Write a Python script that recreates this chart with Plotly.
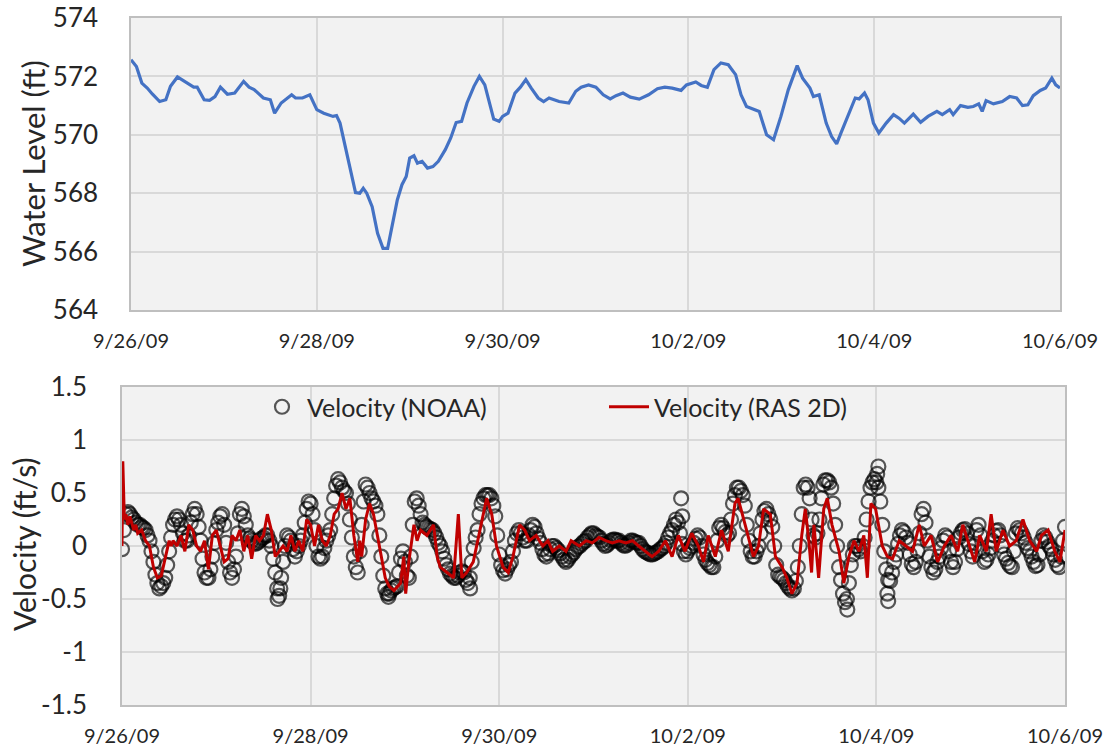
import pandas as pd
import plotly.graph_objects as go

# ---------------- data (hours since 9/26/09 00:00) ----------------
level_hours = [0, 1.4, 2.8, 4.2, 5.5, 7.4, 9.0, 10.2, 12.0, 13.8, 16.2, 17.1, 18.9, 20.3, 21.7, 23.1,
               24.9, 26.8, 29.1, 30.5, 31.8, 34.2, 36.0, 37.1, 38.8, 41.5, 42.5, 44.3, 46.2, 48.0,
               49.8, 52.2, 53.1, 54.0, 55.4, 56.8, 58.0, 59.1, 60.0, 60.9, 62.3, 63.7, 65.1, 66.3,
               67.4, 68.8, 70.0, 71.1, 72.0, 73.1, 74.0, 75.2, 76.6, 78.0, 79.4, 81.2, 82.6, 84.0,
               85.4, 86.8, 88.6, 90.0, 91.4, 92.8, 93.7, 95.1, 96.0, 97.4, 99.2, 100.6, 102.0, 103.4,
               105.2, 106.6, 108.0, 110.6, 113.1, 114.9, 116.3, 118.2, 120.1, 122.0, 123.8, 125.3,
               127.1, 129.0, 131.3, 133.7, 136.0, 137.9, 139.8, 142.1, 143.5, 145.9, 147.3, 148.9,
               150.6, 152.4, 154.3, 156.2, 157.6, 159.0, 160.9, 162.3, 164.2, 166.0, 167.9, 169.8,
               172.1, 173.5, 175.4, 176.3, 177.8, 179.6, 181.0, 182.3, 183.4, 185.3, 187.1, 188.1,
               189.5, 190.4, 191.8, 193.2, 195.1, 197.0, 198.4, 199.8, 202.1, 204.0, 205.9, 208.2,
               209.6, 211.5, 212.4, 214.3, 216.2, 217.6, 219.0, 219.9, 220.9, 222.8, 225.1, 227.0,
               228.8, 230.3, 231.7, 233.1, 234.9, 236.3, 237.9, 238.9, 240.0]
level_ft = [572.57, 572.34, 571.77, 571.60, 571.40, 571.14, 571.20, 571.66, 571.98, 571.83, 571.63,
            571.63, 571.20, 571.18, 571.31, 571.63, 571.39, 571.43, 571.83, 571.63, 571.55, 571.26,
            571.20, 570.74, 571.09, 571.37, 571.26, 571.26, 571.37, 570.86, 570.74, 570.63, 570.66,
            570.40, 569.60, 568.80, 568.02, 568.00, 568.17, 568.00, 567.54, 566.63, 566.11, 566.11,
            566.86, 567.77, 568.29, 568.57, 569.20, 569.28, 569.03, 569.09, 568.86, 568.91, 569.09,
            569.49, 569.89, 570.42, 570.46, 571.09, 571.66, 572.00, 571.71, 570.97, 570.54, 570.46,
            570.63, 570.74, 571.43, 571.63, 571.89, 571.60, 571.26, 571.14, 571.26, 571.14, 571.09,
            571.49, 571.63, 571.71, 571.63, 571.37, 571.23, 571.34, 571.43, 571.29, 571.22, 571.37,
            571.58, 571.63, 571.60, 571.52, 571.71, 571.81, 571.69, 571.63, 572.23, 572.46, 572.40,
            572.06, 571.37, 570.97, 570.86, 570.80, 570.00, 569.83, 570.63, 571.54, 572.37, 571.94,
            571.60, 571.31, 571.37, 570.40, 569.94, 569.69, 570.06, 570.69, 571.26, 571.23, 571.43,
            571.20, 570.40, 570.06, 570.40, 570.69, 570.57, 570.40, 570.71, 570.43, 570.63, 570.80,
            570.69, 570.86, 570.69, 571.00, 570.94, 570.97, 571.06, 570.80, 571.17, 571.06, 571.14,
            571.31, 571.26, 571.00, 571.03, 571.34, 571.52, 571.60, 571.94, 571.71, 571.60]

# NOAA velocity, half-hourly readings, one list per day (9/26 ... 10/5) + final 10/6 00:00
noaa_d1 = [-0.03, 0.15, 0.30, 0.32, 0.30, 0.27, 0.25, 0.22, 0.20, 0.20, 0.18, 0.17, 0.15, 0.10, 0.05,
           -0.05, -0.15, -0.27, -0.35, -0.40, -0.38, -0.35, -0.30, -0.18, -0.05, 0.08, 0.20, 0.25,
           0.28, 0.25, 0.20, 0.12, 0.05, 0.05, 0.10, 0.22, 0.30, 0.35, 0.30, 0.18, 0.05, -0.12,
           -0.25, -0.30, -0.30, -0.22, -0.10, 0.03]
noaa_d2 = [0.15, 0.22, 0.28, 0.30, 0.20, 0.03, -0.15, -0.25, -0.30, -0.22, -0.10, 0.12, 0.30, 0.35,
           0.28, 0.20, 0.10, 0.07, 0.05, 0.03, 0.02, 0.03, 0.05, 0.07, 0.08, 0.10, 0.10, 0.05, 0.00,
           -0.12, -0.25, -0.40, -0.47, -0.30, -0.15, 0.00, 0.10, 0.08, 0.05, -0.03, -0.10, -0.05,
           0.00, 0.05, 0.10, 0.22, 0.35, 0.42]
noaa_d3 = [0.40, 0.30, 0.15, 0.00, -0.10, -0.12, -0.10, -0.02, 0.05, 0.10, 0.15, 0.30, 0.45, 0.57,
           0.63, 0.60, 0.55, 0.52, 0.50, 0.40, 0.25, 0.08, -0.10, -0.20, -0.25, -0.05, 0.20, 0.42,
           0.58, 0.55, 0.50, 0.45, 0.42, 0.38, 0.30, 0.10, -0.10, -0.28, -0.40, -0.45, -0.45, -0.42,
           -0.40, -0.39, -0.38, -0.25, -0.12, -0.05]
noaa_d4 = [-0.15, -0.28, -0.30, -0.10, 0.20, 0.42, 0.45, 0.38, 0.30, 0.22, 0.20, 0.18, 0.17, 0.16,
           0.15, 0.12, 0.08, 0.03, 0.00, -0.05, -0.12, -0.18, -0.22, -0.26, -0.28, -0.30, -0.30,
           -0.28, -0.25, -0.24, -0.25, -0.32, -0.35, -0.30, -0.15, -0.02, 0.08, 0.15, 0.30, 0.40,
           0.45, 0.48, 0.48, 0.48, 0.45, 0.38, 0.28, 0.10]
noaa_d5 = [-0.08, -0.18, -0.23, -0.26, -0.22, -0.18, -0.15, -0.05, 0.05, 0.12, 0.15, 0.12, 0.08,
           0.05, 0.05, 0.10, 0.15, 0.20, 0.18, 0.12, 0.07, 0.03, -0.03, -0.08, -0.10, -0.07, -0.03,
           0.00, 0.00, -0.02, -0.04, -0.07, -0.10, -0.13, -0.15, -0.13, -0.10, -0.08, -0.06, -0.03,
           -0.01, 0.00, 0.02, 0.04, 0.05, 0.08, 0.10, 0.12]
noaa_d6 = [0.12, 0.10, 0.09, 0.08, 0.05, 0.02, 0.00, 0.01, 0.03, 0.05, 0.06, 0.06, 0.05, 0.05, 0.03,
           0.01, 0.00, 0.01, 0.03, 0.05, 0.05, 0.04, 0.03, 0.03, 0.00, -0.03, -0.05, -0.06, -0.07,
           -0.08, -0.08, -0.07, -0.06, -0.05, -0.03, -0.02, 0.00, 0.03, 0.08, 0.12, 0.15, 0.20, 0.25,
           0.22, 0.12, 0.02, -0.05, -0.08]
noaa_d7 = [-0.05, -0.02, 0.00, 0.03, 0.07, 0.10, 0.08, 0.00, -0.08, -0.13, -0.16, -0.18, -0.20,
           -0.20, -0.10, 0.05, 0.17, 0.20, 0.17, 0.13, 0.10, 0.12, 0.25, 0.40, 0.48, 0.55, 0.55,
           0.52, 0.48, 0.38, 0.20, 0.05, -0.05, -0.10, -0.10, -0.05, 0.00, 0.12, 0.25, 0.33, 0.35,
           0.30, 0.25, 0.18, 0.00, -0.18, -0.27, -0.29]
noaa_d8 = [-0.30, -0.32, -0.35, -0.38, -0.40, -0.42, -0.40, -0.33, -0.20, 0.00, 0.30, 0.55, 0.58,
           0.55, 0.45, 0.25, 0.10, 0.08, 0.12, 0.25, 0.45, 0.58, 0.62, 0.62, 0.60, 0.55, 0.40, 0.20,
           0.00, -0.20, -0.32, -0.45, -0.53, -0.50, -0.35, -0.18, -0.08, 0.00, 0.00, -0.03, -0.05,
           0.00, 0.08, 0.25, 0.42, 0.55, 0.60, 0.63]
noaa_d9 = [0.60, 0.55, 0.42, 0.20, -0.05, -0.22, -0.32, -0.33, -0.25, -0.15, -0.08, 0.02, 0.10, 0.15,
           0.13, 0.08, 0.03, -0.08, -0.17, -0.20, -0.15, -0.05, 0.12, 0.30, 0.35, 0.22, 0.05, -0.10,
           -0.20, -0.25, -0.22, -0.15, -0.10, -0.02, 0.05, 0.10, 0.08, -0.05, -0.15, -0.20, -0.15,
           -0.03, 0.08, 0.12, 0.15, 0.16, 0.12, 0.02]
noaa_d10 = [-0.05, -0.10, 0.00, 0.15, 0.20, 0.10, -0.05, -0.15, -0.13, -0.08, -0.02, 0.05, 0.10,
            0.14, 0.15, 0.10, 0.00, -0.08, -0.12, -0.16, -0.19, -0.20, -0.05, 0.12, 0.17, 0.15, 0.12,
            0.08, 0.03, -0.02, -0.05, -0.10, -0.15, -0.19, -0.18, -0.08, 0.05, 0.10, 0.08, 0.04,
            0.00, -0.03, -0.08, -0.13, -0.18, -0.20, -0.10, 0.05, 0.18]
noaa_step_h = 0.5
# isolated NOAA readings that stand apart from the main band
noaa_extra_hours = [39.6, 40.3, 67.8, 88.6, 142.3, 142.6, 184.6, 192.2, 192.5, 194.8, 195.0]
noaa_extra_vel = [-0.50, -0.40, -0.48, -0.40, 0.45, 0.28, -0.60, 0.68, 0.75, -0.45, -0.52]

ras_hours = [0, 0.2, 0.6, 1, 1.5, 2, 3, 3.5, 4, 5, 6, 7, 8, 9, 10, 11, 12, 12.5, 13, 14, 15, 16, 17,
             18, 19, 20, 21, 22, 23, 24, 25, 26, 27, 28, 29, 30, 31, 32, 33, 34, 35, 36, 37, 38, 39,
             40, 41, 42, 43, 44, 45, 46, 47, 48, 49, 50, 51, 52, 53, 54, 55, 56, 57, 58, 59, 60,
             60.5, 61, 62, 63, 64, 65, 66, 67, 68, 69.2, 70.9, 71.7, 72.2, 73, 74.3, 75.1, 76, 77.6,
             79.3, 80.2, 81, 82.7, 84.4, 85.6, 86.5, 87.7, 89.4, 91.1, 92.8, 94.1, 95.3, 97, 98.3,
             99.5, 101.2, 102.5, 103.7, 105.4, 107.1, 108.4, 109.6, 111.3, 113, 114.3, 116.4, 118.1,
             119.7, 121.4, 123.1, 124.8, 126.5, 128.2, 129.9, 131.5, 133.2, 134.9, 136.6, 138.3, 140,
             141.6, 143.3, 145, 146.7, 148, 149.2, 151, 152.6, 154.3, 156, 156.8, 158.6, 160.7, 162,
             163.3, 165, 166.3, 168, 169.2, 170.5, 171.8, 173, 173.9, 174.8, 175.5, 176.1, 177.3,
             178.6, 179.5, 180.7, 182.5, 183.7, 185, 186.3, 187.6, 188.8, 189.7, 190.6, 191.8, 193.5,
             194.8, 196.1, 197.8, 199.5, 201.2, 202.9, 204.2, 205.9, 207.6, 209.3, 211, 212.7, 214,
             215.7, 217, 218.3, 220, 221.2, 222.5, 224.2, 225.9, 227.6, 229.3, 231, 232.8, 234,
             235.7, 237.4, 238.7, 240]
ras_vel = [0.00, 0.80, 0.25, 0.30, 0.20, 0.28, 0.15, 0.20, 0.12, 0.15, 0.05, 0.00, -0.20, -0.30, -0.28,
           -0.10, 0.05, 0.00, 0.05, 0.00, 0.10, -0.05, 0.20, 0.15, 0.00, -0.05, 0.05, -0.22, 0.10,
           0.15, 0.00, -0.15, -0.12, 0.10, 0.05, 0.15, -0.05, 0.10, -0.12, 0.10, 0.05, 0.10, 0.30,
           0.15, -0.10, -0.05, 0.00, -0.05, 0.10, -0.05, 0.05, -0.05, 0.25, 0.20, 0.00, 0.20, 0.05,
           0.00, 0.10, 0.30, 0.35, 0.50, 0.35, 0.45, 0.10, -0.15, 0.05, -0.10, 0.25, 0.40, 0.30,
           0.10, -0.10, -0.30, -0.38, -0.42, -0.35, -0.10, -0.45, -0.15, 0.20, 0.05, 0.15, 0.10,
           0.20, -0.10, -0.20, -0.25, -0.30, 0.30, -0.30, -0.25, -0.15, 0.15, 0.45, 0.30, 0.00,
           -0.20, -0.25, -0.10, 0.20, 0.15, 0.05, 0.10, 0.00, 0.05, -0.05, 0.00, -0.05, 0.05, 0.00,
           0.05, 0.03, 0.08, 0.05, 0.03, 0.05, 0.03, 0.05, 0.00, -0.05, -0.10, -0.05, 0.05, -0.10,
           0.10, -0.05, 0.12, 0.00, -0.15, 0.10, -0.10, 0.15, -0.05, 0.40, 0.45, 0.20, -0.10, 0.00,
           0.35, 0.30, -0.10, -0.20, -0.30, -0.45, -0.35, 0.10, 0.35, 0.05, -0.25, 0.20, -0.30,
           0.35, 0.45, 0.20, -0.05, -0.35, -0.10, 0.05, -0.05, 0.10, -0.30, 0.40, 0.35, 0.00, -0.10,
           -0.12, 0.05, 0.00, -0.05, 0.20, 0.00, 0.10, -0.15, 0.00, 0.10, -0.05, 0.20, 0.00, -0.15,
           0.10, -0.05, 0.30, -0.05, 0.15, 0.00, 0.05, 0.25, 0.05, -0.05, 0.10, 0.15, -0.05, -0.15,
           0.15]

wl_ticks = [564, 566, 568, 570, 572, 574]
vel_ticks = [-1.5, -1, -0.5, 0, 0.5, 1, 1.5]
vel_tick_labels = ["-1.5", "-1", "-0.5", "0", "0.5", "1", "1.5"]

start = pd.Timestamp("2009-09-26")
def to_dt(hours):
    return [start + pd.Timedelta(hours=h) for h in hours]

noaa_main = noaa_d1 + noaa_d2 + noaa_d3 + noaa_d4 + noaa_d5 + noaa_d6 + noaa_d7 + noaa_d8 + noaa_d9 + noaa_d10
noaa_main_hours = [i * noaa_step_h for i in range(len(noaa_main))]
noaa_hours = noaa_main_hours + noaa_extra_hours
noaa_vel = noaa_main + noaa_extra_vel

W, H = 1109, 753
top_px = dict(l=131, r=1060, t=18, b=310)
bot_px = dict(l=122, r=1065, t=387, b=705)

FONT = "Lato, 'Open Sans', sans-serif"
TXT = "#262626"
GRID = "#D9D9D9"
BORDER = "#BFBFBF"

fig = go.Figure()
fig.add_trace(go.Scatter(x=to_dt(level_hours), y=level_ft, mode="lines",
                         line=dict(color="#4472C4", width=3.2), showlegend=False,
                         xaxis="x", yaxis="y"))
fig.add_trace(go.Scatter(x=to_dt(noaa_hours), y=noaa_vel, mode="markers",
                         name="Velocity (NOAA)",
                         marker=dict(symbol="circle-open", size=14,
                                     color="rgba(0,0,0,0.65)", line=dict(width=2.2)),
                         xaxis="x2", yaxis="y2"))
fig.add_trace(go.Scatter(x=to_dt(ras_hours), y=ras_vel, mode="lines",
                         name="Velocity (RAS 2D)",
                         line=dict(color="#C00000", width=3),
                         xaxis="x2", yaxis="y2"))

def xdom(p):
    return [p["l"] / W, p["r"] / W]

def ydom(p):
    return [1 - p["b"] / H, 1 - p["t"] / H]

xcommon = dict(type="date", range=["2009-09-26", "2009-10-06"], dtick=2 * 86400000,
               tick0="2009-09-26", tickformat="%-m/%-d/%y", showgrid=True, gridcolor=GRID,
               gridwidth=1.5, showline=True, linecolor=BORDER, linewidth=1.5, mirror=True,
               ticks="", tickfont=dict(family=FONT, size=20, color=TXT), zeroline=False,
               ticklabelstandoff=12, automargin=False)
ycommon = dict(showgrid=True, gridcolor=GRID, gridwidth=1.5, showline=True, linecolor=BORDER,
               linewidth=1.5, mirror=True, ticks="", zeroline=False,
               tickfont=dict(family=FONT, size=26, color=TXT), automargin=False)

fig.update_layout(
    width=W, height=H,
    margin=dict(l=0, r=0, t=0, b=0),
    paper_bgcolor="white", plot_bgcolor="#F2F2F2",
    font=dict(family=FONT, color=TXT),
    xaxis=dict(domain=xdom(top_px), anchor="y", **xcommon),
    yaxis=dict(domain=ydom(top_px), anchor="x", range=[564, 574], tickmode="array",
               tickvals=wl_ticks, ticklabelstandoff=26, **ycommon),
    xaxis2=dict(domain=xdom(bot_px), anchor="y2", **xcommon),
    yaxis2=dict(domain=ydom(bot_px), anchor="x2", range=[-1.5, 1.5], tickmode="array",
                tickvals=vel_ticks, ticktext=vel_tick_labels, ticklabelstandoff=28, **ycommon),
    legend=dict(orientation="h", x=257 / W, y=1 - 384 / H, xanchor="left", yanchor="top",
                bgcolor="rgba(0,0,0,0)", font=dict(family=FONT, size=25, color=TXT),
                entrywidth=292, entrywidthmode="pixels", itemwidth=40),
    annotations=[
        dict(text="Water Level (ft)", x=33 / W, y=1 - 164 / H, xref="paper", yref="paper",
             xanchor="center", yanchor="middle",
             textangle=-90, showarrow=False, font=dict(family=FONT, size=31, color=TXT)),
        dict(text="Velocity (ft/s)", x=24 / W, y=1 - 544 / H, xref="paper", yref="paper",
             xanchor="center", yanchor="middle",
             textangle=-90, showarrow=False, font=dict(family=FONT, size=30, color=TXT)),
    ],
)

fig.write_html("out.html")
